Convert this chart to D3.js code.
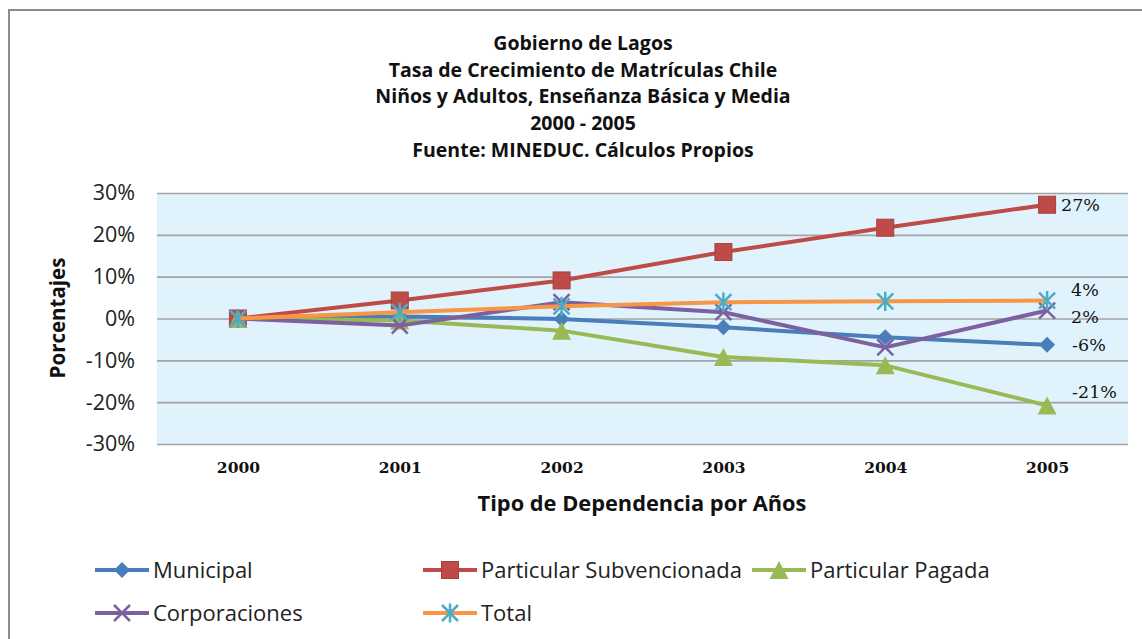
<!DOCTYPE html>
<html><head><meta charset="utf-8">
<script src="https://cdn.jsdelivr.net/npm/d3@7"></script>
<style>html,body{margin:0;padding:0;background:#fff;}svg{display:block;}</style>
</head><body>
<svg id="c" width="1142" height="639"></svg>
<script>
// ---- data ----
const years = ["2000", "2001", "2002", "2003", "2004", "2005"];
const municipal = [0, 0.5, -0.1, -2.1, -4.5, -6.3];
const subvencionada = [0, 4.3, 9.1, 15.9, 21.7, 27.2];
const pagada = [0, -0.5, -2.9, -9.2, -11.2, -20.8];
const corporaciones = [0, -1.7, 3.9, 1.5, -6.9, 1.9];
const total = [0, 1.5, 2.9, 3.9, 4.1, 4.3];
const seriesNames = ["Municipal", "Particular Subvencionada", "Particular Pagada", "Corporaciones", "Total"];
const endLabels = ["-6%", "27%", "-21%", "2%", "4%"];
const yTicks = [-30, -20, -10, 0, 10, 20, 30];
const titleLines = ["Gobierno de Lagos", "Tasa de Crecimiento de Matrículas Chile", "Niños y Adultos, Enseñanza Básica y Media", "2000 - 2005", "Fuente: MINEDUC. Cálculos Propios"];

// ---- styles ----
const styles = [
  {line: "#4A7EBB", marker: "diamond", fill: "#4A7EBB", lab: {dx: 25, dy: 0}},
  {line: "#BE4B48", marker: "square", fill: "#BE4B48", lab: {dx: 14, dy: 0}},
  {line: "#98B954", marker: "triangle", fill: "#98B954", lab: {dx: 25, dy: -14}},
  {line: "#7D60A0", marker: "x", fill: "#7D60A0", lab: {dx: 24, dy: 6}},
  {line: "#F79646", marker: "asterisk", fill: "#4BACC6", lab: {dx: 24, dy: -11}}
];
const seriesValues = [municipal, subvencionada, pagada, corporaciones, total];

const svg = d3.select("#c");
const sans = "'Open Sans', Lato, sans-serif";
const serif = "'DejaVu Serif', 'Liberation Serif', serif";

// frame
svg.append("rect").attr("x", 9).attr("y", 10).attr("width", 1200).attr("height", 700)
  .attr("fill", "#fff").attr("stroke", "#8C8C8C").attr("stroke-width", 2);

const plot = {l: 157, r: 1128, t: 193, b: 444};
const x = d3.scalePoint().domain(years).range([plot.l, plot.r]).padding(0.5);
const y = d3.scaleLinear().domain([-30, 30]).range([plot.b, plot.t]);

// title
svg.append("g").selectAll("text").data(titleLines).join("text")
  .attr("x", 583).attr("y", (d, i) => 43 + i * 26.8).attr("dy", "0.35em")
  .attr("text-anchor", "middle").attr("font-family", sans).attr("font-weight", "bold")
  .attr("font-size", 19.5).attr("fill", "#111").text(d => d);

// plot bg
svg.append("rect").attr("x", plot.l).attr("y", plot.t).attr("width", plot.r - plot.l).attr("height", plot.b - plot.t)
  .attr("fill", "#E0F3FC");

// grid
const yAxis = d3.axisLeft(y).tickValues(yTicks).tickSize(-(plot.r - plot.l)).tickFormat(d => d + "%").tickPadding(22);
const gy = svg.append("g").attr("transform", `translate(${plot.l},0)`).call(yAxis);
gy.select(".domain").remove();
gy.selectAll(".tick line").attr("stroke", "#A3A3A3").attr("stroke-width", 1.6);
gy.selectAll(".tick text").attr("font-family", sans).attr("font-size", 21.5).attr("fill", "#222");

// x axis labels
const xAxis = d3.axisBottom(x).tickSize(0).tickPadding(18);
const gx = svg.append("g").attr("transform", `translate(0,${plot.b})`).call(xAxis);
gx.select(".domain").remove();
gx.selectAll(".tick text").attr("font-family", serif).attr("font-weight", "bold").attr("font-size", 15.5)
  .attr("fill", "#111");

// axis titles
svg.append("text").attr("transform", `translate(58,318) rotate(-90)`).attr("dy", "0.35em")
  .attr("text-anchor", "middle").attr("font-family", sans).attr("font-weight", "bold").attr("font-size", 20.5)
  .attr("fill", "#111").text("Porcentajes");
svg.append("text").attr("x", 642).attr("y", 503).attr("dy", "0.35em")
  .attr("text-anchor", "middle").attr("font-family", sans).attr("font-weight", "bold").attr("font-size", 21.8)
  .attr("fill", "#111").text("Tipo de Dependencia por Años");

// marker drawer
function drawMarker(g, type, color, s) {
  s = s || 1;
  if (type === "diamond") {
    const h = 8 * s;
    g.append("path").attr("d", `M0,${-h}L${h},0L0,${h}L${-h},0Z`).attr("fill", color);
  } else if (type === "square") {
    const h = 8.5 * s;
    g.append("rect").attr("x", -h).attr("y", -h).attr("width", 2 * h).attr("height", 2 * h)
      .attr("fill", color).attr("stroke", "#A8403D").attr("stroke-width", 1);
  } else if (type === "triangle") {
    const w = 9.5 * s, h = 9 * s;
    g.append("path").attr("d", `M0,${-h}L${w},${h}L${-w},${h}Z`).attr("fill", color);
  } else if (type === "x") {
    const h = 8 * s;
    g.append("path").attr("d", `M${-h},${-h}L${h},${h}M${-h},${h}L${h},${-h}`)
      .attr("stroke", color).attr("stroke-width", 2.5 * s).attr("fill", "none");
  } else if (type === "asterisk") {
    const h = 8 * s;
    g.append("path").attr("d", `M${-h},${-h}L${h},${h}M${-h},${h}L${h},${-h}M0,${-h * 1.2}L0,${h * 1.2}`)
      .attr("stroke", color).attr("stroke-width", 2.5 * s).attr("fill", "none");
  }
}

// series
const line = d3.line().x((d, i) => x(years[i])).y(d => y(d));
seriesValues.forEach((vals, si) => {
  const st = styles[si];
  const g = svg.append("g");
  g.append("path").attr("d", line(vals)).attr("fill", "none").attr("stroke", st.line)
    .attr("stroke-width", 4).attr("stroke-linejoin", "round");
  vals.forEach((v, i) => {
    const mg = g.append("g").attr("transform", `translate(${x(years[i])},${y(v)})`);
    drawMarker(mg, st.marker, st.fill);
  });
});

// end labels
seriesValues.forEach((vals, si) => {
  const st = styles[si];
  const last = vals.length - 1;
  svg.append("text").attr("x", x(years[last]) + st.lab.dx).attr("y", y(vals[last]) + st.lab.dy)
    .attr("dy", "0.35em").attr("font-family", serif).attr("font-size", 17.5).attr("fill", "#111")
    .text(endLabels[si]);
});

// legend
const legendPos = [[95, 570], [423, 570], [752, 570], [95, 613], [423, 613]];
seriesNames.forEach((name, si) => {
  const st = styles[si];
  const [lx, ly] = legendPos[si];
  const g = svg.append("g").attr("transform", `translate(${lx},${ly})`);
  g.append("line").attr("x1", 0).attr("x2", 54).attr("y1", 0).attr("y2", 0)
    .attr("stroke", st.line).attr("stroke-width", 4);
  drawMarker(g.append("g").attr("transform", "translate(27,0)"), st.marker, st.fill);
  g.append("text").attr("x", 58).attr("y", 0).attr("dy", "0.35em").attr("font-family", sans)
    .attr("font-size", 22).attr("fill", "#222").text(name);
});
</script>
</body></html>
